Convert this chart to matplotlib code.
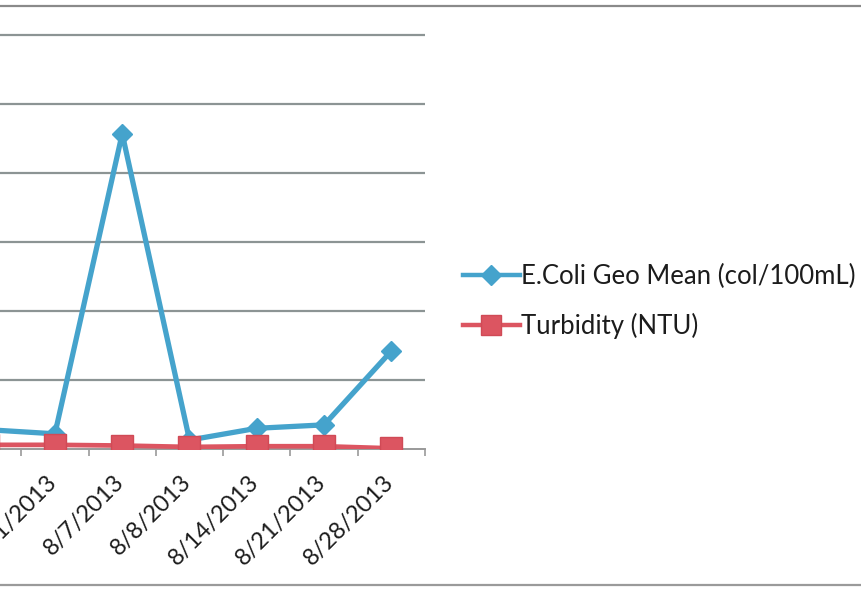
import matplotlib
matplotlib.use("Agg")
import matplotlib.pyplot as plt
from matplotlib.lines import Line2D
from matplotlib.transforms import ScaledTranslation

# Sampling dates and measured values
dates = ["7/24/2013", "7/31/2013", "8/7/2013", "8/8/2013",
         "8/14/2013", "8/21/2013", "8/28/2013"]
ecoli_geo_mean = [28, 22, 457, 13, 30, 35, 142]   # col/100mL
turbidity = [6, 6, 5, 3, 4, 4, 1]                 # NTU

blue = "#45a3cc"
red = "#dc5561"
grid_gray = "#8c9494"
text_color = "#1c1c1c"

plt.rcParams["font.family"] = ["Lato", "DejaVu Sans"]

fig = plt.figure(figsize=(8.61, 5.89), dpi=100)
W, H = 861, 589

# Plot area (extends past the left edge of the page)
left_px, right_px = -46, 425
bottom_px, top_px = 449, -34
ax = fig.add_axes([left_px / W, (H - bottom_px) / H,
                   (right_px - left_px) / W, (bottom_px - top_px) / H])

x = list(range(len(dates)))
ax.plot(x, ecoli_geo_mean, color=blue, lw=3.8, marker="D", ms=10,
        markerfacecolor=blue, markeredgecolor=blue, zorder=3,
        label="E.Coli Geo Mean (col/100mL)")
ax.plot(x, turbidity, color=red, lw=3.4, marker="s", ms=16,
        markerfacecolor=red, markeredgecolor="#d04a56", zorder=4,
        label="Turbidity (NTU)")

ax.set_xlim(-0.5, len(dates) - 0.5)
ax.set_ylim(0, 700)
ax.set_yticks(range(100, 701, 100))
ax.yaxis.grid(True, color=grid_gray, lw=1.6)
ax.set_axisbelow(True)
ax.tick_params(axis="y", length=0, labelleft=False)

for s in ["top", "right", "left"]:
    ax.spines[s].set_visible(False)
ax.spines["bottom"].set_color("#999999")
ax.spines["bottom"].set_linewidth(1.4)

ax.set_xticks(x)
ax.set_xticklabels(dates, rotation=45, ha="right", va="top",
                   fontsize=17, color=text_color)
ax.tick_params(axis="x", which="major", length=0, pad=16)
ax.set_xticks([i - 0.5 for i in range(len(dates) + 1)], minor=True)
ax.tick_params(axis="x", which="minor", length=5, width=1.2,
               color="#999999", direction="out")
shift = ScaledTranslation(6 / 100, 0, fig.dpi_scale_trans)
for lbl in ax.get_xticklabels():
    lbl.set_transform(lbl.get_transform() + shift)

# Legend to the right of the plot
handles = [
    Line2D([], [], color=blue, lw=3.2, marker="D", ms=10,
           markerfacecolor=blue, markeredgecolor=blue),
    Line2D([], [], color=red, lw=3.2, marker="s", ms=14,
           markerfacecolor=red, markeredgecolor="#d04a56"),
]
fig.legend(handles, ["E.Coli Geo Mean (col/100mL)", "Turbidity (NTU)"],
           loc="upper left", bbox_to_anchor=(463 / W, (H - 264) / H),
           frameon=False, fontsize=18.5, handlelength=2.2,
           handletextpad=0.05, labelspacing=0.92, borderpad=0,
           borderaxespad=0, labelcolor=text_color)

# Chart border lines at the top and bottom of the page
fig.add_artist(Line2D([0, 1], [(H - 6) / H, (H - 6) / H],
                      color="#8a8a8a", lw=1.6, transform=fig.transFigure))
fig.add_artist(Line2D([0, 1], [(H - 585) / H, (H - 585) / H],
                      color="#9a9a9a", lw=1.6, transform=fig.transFigure))

fig.savefig("out.png", dpi=100)
